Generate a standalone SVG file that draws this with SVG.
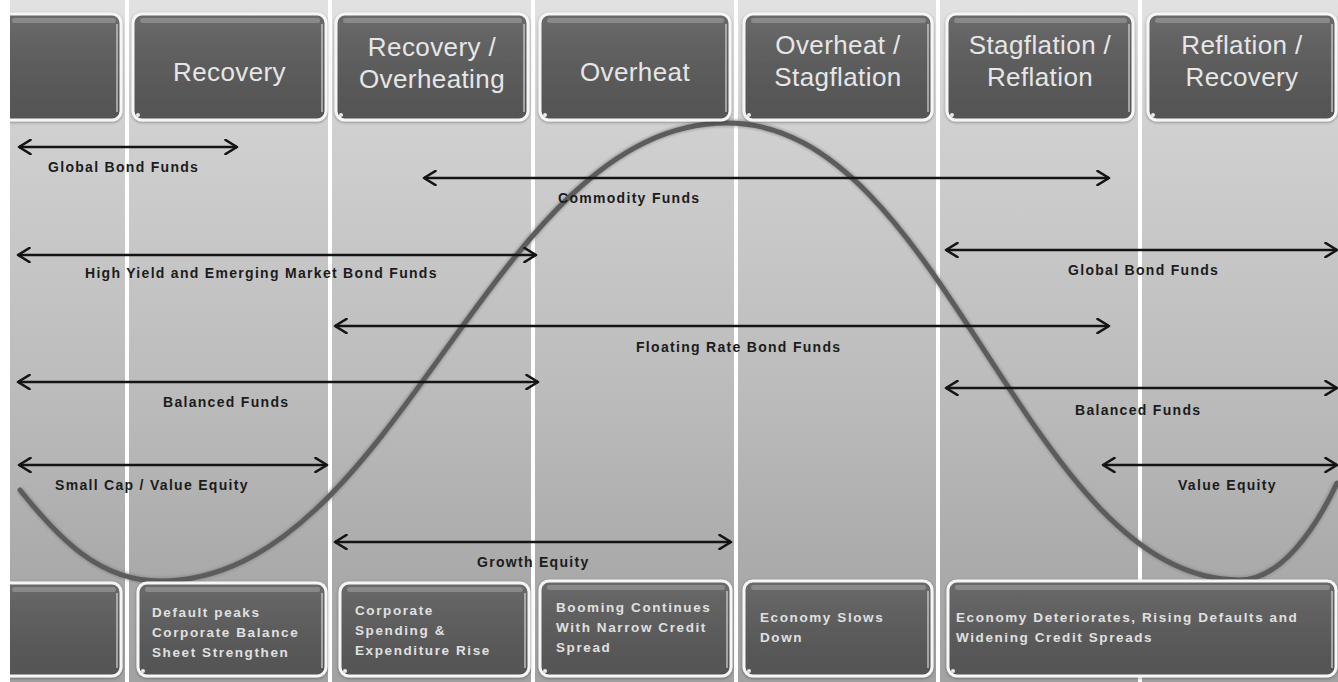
<svg xmlns="http://www.w3.org/2000/svg" width="1338" height="682" viewBox="0 0 1338 682">
  <defs>
    <linearGradient id="colGrad" gradientUnits="userSpaceOnUse" x1="0" y1="0" x2="0" y2="682">
      <stop offset="0" stop-color="#e2e2e2"/>
      <stop offset="0.19" stop-color="#d0d0d0"/>
      <stop offset="0.6" stop-color="#bababa"/>
      <stop offset="0.85" stop-color="#a9a9a9"/>
      <stop offset="1" stop-color="#a2a2a2"/>
    </linearGradient>
    <linearGradient id="boxGrad" x1="0" y1="0" x2="0" y2="1">
      <stop offset="0" stop-color="#6a6a6a"/>
      <stop offset="0.5" stop-color="#5c5c5c"/>
      <stop offset="1" stop-color="#545454"/>
    </linearGradient>
    <filter id="soft" x="-5%" y="-5%" width="110%" height="110%">
      <feGaussianBlur stdDeviation="1"/>
    </filter>
    <filter id="boxShadow" x="-5%" y="-10%" width="110%" height="120%">
      <feGaussianBlur in="SourceAlpha" stdDeviation="1.5"/>
      <feOffset dx="0" dy="1" result="b"/>
      <feFlood flood-color="#000" flood-opacity="0.35"/>
      <feComposite in2="b" operator="in"/>
      <feMerge><feMergeNode/><feMergeNode in="SourceGraphic"/></feMerge>
    </filter>
    <marker id="ah" viewBox="0 0 16 16" refX="13" refY="8" markerWidth="16" markerHeight="16" markerUnits="userSpaceOnUse" orient="auto-start-reverse">
      <path d="M1.5,1 L13,8 L1.5,15" fill="none" stroke="#141414" stroke-width="2.6" stroke-linecap="round" stroke-linejoin="round"/>
    </marker>
    <style>
      .col { fill: url(#colGrad); }
      .box { fill: url(#boxGrad); stroke: #f6f6f6; stroke-width: 3; filter: url(#boxShadow); }
      .hl { fill: #a4a4a4; opacity: 0.55; }
      .edge { stroke: #d8d8d8; stroke-width: 1.5; opacity: 0.8; fill: none; }
      .dot { fill: #e8e8e8; }
      .htxt { font-family: "Liberation Sans", Arial, sans-serif; font-size: 26px; fill: #e6e6e6; text-anchor: middle; letter-spacing: 0.4px; }
      .btxt { font-family: "Liberation Sans", Arial, sans-serif; font-size: 13.5px; font-weight: bold; fill: #e0e0e0; letter-spacing: 1.6px; }
      .arrow { stroke: #141414; stroke-width: 2.6; fill: none; marker-start: url(#ah); marker-end: url(#ah); }
      .lbl { font-family: "Liberation Sans", Arial, sans-serif; font-size: 14px; font-weight: bold; fill: #1c1c1c; letter-spacing: 1.3px; }
      .curve { fill: none; stroke: #5c5c5c; stroke-width: 5; stroke-linecap: round; }
      .curveShade { fill: none; stroke: #7a7a7a; stroke-width: 8; opacity: 0.45; filter: url(#soft); }
    </style>
  </defs>

  <rect x="0" y="0" width="1338" height="682" fill="#ffffff"/>

  <g id="columns">
    <rect class="col" x="10" y="0" width="115" height="682"/>
    <rect class="col" x="129" y="0" width="199" height="682"/>
    <rect class="col" x="332" y="0" width="199" height="682"/>
    <rect class="col" x="535" y="0" width="199" height="682"/>
    <rect class="col" x="738" y="0" width="198" height="682"/>
    <rect class="col" x="940" y="0" width="198" height="682"/>
    <rect class="col" x="1142" y="0" width="196" height="682"/>
  </g>

  <g id="cycle-curve">
    <path class="curveShade" d="M20,490 C60,540 100,581 160,581 C398,581 490,123 727,123 C945,123 1026,580 1240,580 C1280,580 1315,530 1337,483"/>
    <path class="curve" d="M20,490 C60,540 100,581 160,581 C398,581 490,123 727,123 C945,123 1026,580 1240,580 C1280,580 1315,530 1337,483"/>
  </g>

  <g id="phase-0">
    <rect class="box" x="-20" y="14" width="141" height="106" rx="9"/>
    <rect class="hl" x="12" y="18" width="104" height="5" rx="2.5"/>
    <line class="edge" x1="117" y1="24" x2="117" y2="112"/>
  </g>
  <g id="phase-recovery">
    <rect class="box" x="133" y="14" width="193" height="106" rx="9"/>
    <rect class="hl" x="140" y="18" width="180" height="5" rx="2.5"/>
    <line class="edge" x1="322" y1="24" x2="322" y2="112"/>
    <circle class="dot" cx="138" cy="115" r="2"/>
    <text class="htxt" x="229.5" y="81">Recovery</text>
  </g>
  <g id="phase-recovery-overheating">
    <rect class="box" x="336" y="14" width="192" height="106" rx="9"/>
    <rect class="hl" x="343" y="18" width="179" height="5" rx="2.5"/>
    <line class="edge" x1="524" y1="24" x2="524" y2="112"/>
    <circle class="dot" cx="341" cy="115" r="2"/>
    <text class="htxt" x="432" y="56">Recovery /</text>
    <text class="htxt" x="432" y="88">Overheating</text>
  </g>
  <g id="phase-overheat">
    <rect class="box" x="540" y="14" width="190" height="106" rx="9"/>
    <rect class="hl" x="547" y="18" width="177" height="5" rx="2.5"/>
    <line class="edge" x1="726" y1="24" x2="726" y2="112"/>
    <circle class="dot" cx="545" cy="115" r="2"/>
    <text class="htxt" x="635" y="81">Overheat</text>
  </g>
  <g id="phase-overheat-stagflation">
    <rect class="box" x="744" y="14" width="188" height="106" rx="9"/>
    <rect class="hl" x="751" y="18" width="175" height="5" rx="2.5"/>
    <line class="edge" x1="928" y1="24" x2="928" y2="112"/>
    <circle class="dot" cx="749" cy="115" r="2"/>
    <text class="htxt" x="838" y="54">Overheat /</text>
    <text class="htxt" x="838" y="86">Stagflation</text>
  </g>
  <g id="phase-stagflation-reflation">
    <rect class="box" x="947" y="14" width="186" height="106" rx="9"/>
    <rect class="hl" x="954" y="18" width="173" height="5" rx="2.5"/>
    <line class="edge" x1="1129" y1="24" x2="1129" y2="112"/>
    <circle class="dot" cx="952" cy="115" r="2"/>
    <text class="htxt" x="1040" y="54">Stagflation /</text>
    <text class="htxt" x="1040" y="86">Reflation</text>
  </g>
  <g id="phase-reflation-recovery">
    <rect class="box" x="1148" y="14" width="188" height="106" rx="9"/>
    <rect class="hl" x="1155" y="18" width="175" height="5" rx="2.5"/>
    <line class="edge" x1="1332" y1="24" x2="1332" y2="112"/>
    <circle class="dot" cx="1153" cy="115" r="2"/>
    <text class="htxt" x="1242" y="54">Reflation /</text>
    <text class="htxt" x="1242" y="86">Recovery</text>
  </g>

  <g id="note-0">
    <rect class="box" x="-20" y="583" width="141" height="93" rx="9"/>
    <rect class="hl" x="12" y="587" width="104" height="5" rx="2.5"/>
    <line class="edge" x1="117" y1="593" x2="117" y2="668"/>
  </g>
  <g id="note-default-peaks">
    <rect class="box" x="138" y="583" width="188" height="93" rx="9"/>
    <rect class="hl" x="145" y="587" width="175" height="5" rx="2.5"/>
    <line class="edge" x1="322" y1="593" x2="322" y2="668"/>
    <circle class="dot" cx="143" cy="671" r="2"/>
    <text class="btxt" x="152" y="617">Default peaks</text>
    <text class="btxt" x="152" y="637">Corporate Balance</text>
    <text class="btxt" x="152" y="657">Sheet Strengthen</text>
  </g>
  <g id="note-corporate-spending">
    <rect class="box" x="340" y="583" width="189" height="93" rx="9"/>
    <rect class="hl" x="347" y="587" width="176" height="5" rx="2.5"/>
    <line class="edge" x1="525" y1="593" x2="525" y2="668"/>
    <circle class="dot" cx="345" cy="671" r="2"/>
    <text class="btxt" x="355" y="615">Corporate</text>
    <text class="btxt" x="355" y="635">Spending &amp;</text>
    <text class="btxt" x="355" y="655">Expenditure Rise</text>
  </g>
  <g id="note-booming">
    <rect class="box" x="540" y="581" width="191" height="95" rx="9"/>
    <rect class="hl" x="547" y="585" width="178" height="5" rx="2.5"/>
    <line class="edge" x1="727" y1="591" x2="727" y2="668"/>
    <circle class="dot" cx="545" cy="671" r="2"/>
    <text class="btxt" x="556" y="612">Booming Continues</text>
    <text class="btxt" x="556" y="632">With Narrow Credit</text>
    <text class="btxt" x="556" y="652">Spread</text>
  </g>
  <g id="note-economy-slows">
    <rect class="box" x="744" y="581" width="188" height="95" rx="9"/>
    <rect class="hl" x="751" y="585" width="175" height="5" rx="2.5"/>
    <line class="edge" x1="928" y1="591" x2="928" y2="668"/>
    <circle class="dot" cx="749" cy="671" r="2"/>
    <text class="btxt" x="760" y="622">Economy Slows</text>
    <text class="btxt" x="760" y="642">Down</text>
  </g>
  <g id="note-economy-deteriorates">
    <rect class="box" x="948" y="581" width="388" height="95" rx="9"/>
    <rect class="hl" x="955" y="585" width="375" height="5" rx="2.5"/>
    <line class="edge" x1="1332" y1="591" x2="1332" y2="668"/>
    <circle class="dot" cx="953" cy="671" r="2"/>
    <text class="btxt" x="956" y="622">Economy Deteriorates, Rising Defaults and</text>
    <text class="btxt" x="956" y="642">Widening Credit Spreads</text>
  </g>

  <rect x="0" y="0" width="10" height="682" fill="#ffffff"/>

  <g id="connectors">
    <line class="arrow" x1="19" y1="147" x2="237" y2="147"/>
    <line class="arrow" x1="424" y1="178" x2="1109" y2="178"/>
    <line class="arrow" x1="18" y1="255" x2="536" y2="255"/>
    <line class="arrow" x1="946" y1="250" x2="1337" y2="250"/>
    <line class="arrow" x1="335" y1="326" x2="1109" y2="326"/>
    <line class="arrow" x1="18" y1="382" x2="538" y2="382"/>
    <line class="arrow" x1="946" y1="388" x2="1337" y2="388"/>
    <line class="arrow" x1="19" y1="465" x2="327" y2="465"/>
    <line class="arrow" x1="1103" y1="465" x2="1337" y2="465"/>
    <line class="arrow" x1="335" y1="542" x2="731" y2="542"/>
  </g>

  <g id="connector-labels">
    <text class="lbl" x="48" y="172">Global Bond Funds</text>
    <text class="lbl" x="558" y="203">Commodity Funds</text>
    <text class="lbl" x="85" y="278">High Yield and Emerging Market Bond Funds</text>
    <text class="lbl" x="1068" y="275">Global Bond Funds</text>
    <text class="lbl" x="636" y="352">Floating Rate Bond Funds</text>
    <text class="lbl" x="163" y="407">Balanced Funds</text>
    <text class="lbl" x="1075" y="415">Balanced Funds</text>
    <text class="lbl" x="55" y="490">Small Cap / Value Equity</text>
    <text class="lbl" x="1178" y="490">Value Equity</text>
    <text class="lbl" x="477" y="567">Growth Equity</text>
  </g>
</svg>
